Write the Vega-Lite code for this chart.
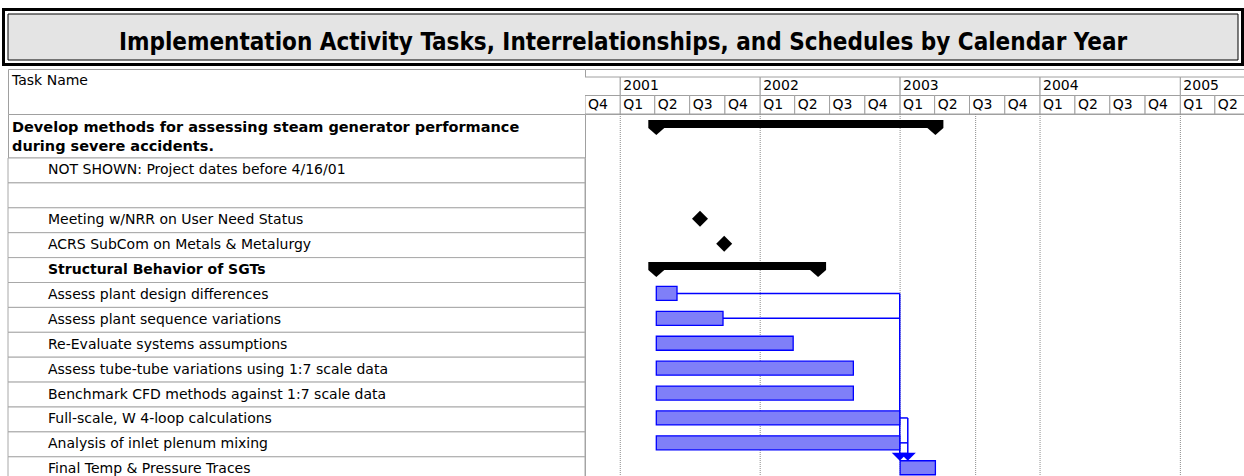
{
  "$schema": "https://vega.github.io/schema/vega-lite/v6.json",
  "background": "white",
  "padding": {"left": 2, "top": 8, "right": 0, "bottom": 0},
  "config": {"view": {"stroke": null}, "font": "DejaVu Sans", "text": {"font": "DejaVu Sans", "color": "black"}},
  "datasets": {
    "title": [{"text": "Implementation Activity Tasks, Interrelationships, and Schedules by Calendar Year"}],
    "header": [{"label": "Task Name", "level": 0}],
    "timescale": [
      {"tier": "year", "label": "", "start": "2000-01-01", "end": "2001-01-01"},
      {"tier": "year", "label": "2001", "start": "2001-01-01", "end": "2002-01-01"},
      {"tier": "year", "label": "2002", "start": "2002-01-01", "end": "2003-01-01"},
      {"tier": "year", "label": "2003", "start": "2003-01-01", "end": "2004-01-01"},
      {"tier": "year", "label": "2004", "start": "2004-01-01", "end": "2005-01-01"},
      {"tier": "year", "label": "2005", "start": "2005-01-01", "end": "2006-01-01"},
      {"tier": "quarter", "label": "Q4", "start": "2000-10-01", "end": "2001-01-01"},
      {"tier": "quarter", "label": "Q1", "start": "2001-01-01", "end": "2001-04-01"},
      {"tier": "quarter", "label": "Q2", "start": "2001-04-01", "end": "2001-07-01"},
      {"tier": "quarter", "label": "Q3", "start": "2001-07-01", "end": "2001-10-01"},
      {"tier": "quarter", "label": "Q4", "start": "2001-10-01", "end": "2002-01-01"},
      {"tier": "quarter", "label": "Q1", "start": "2002-01-01", "end": "2002-04-01"},
      {"tier": "quarter", "label": "Q2", "start": "2002-04-01", "end": "2002-07-01"},
      {"tier": "quarter", "label": "Q3", "start": "2002-07-01", "end": "2002-10-01"},
      {"tier": "quarter", "label": "Q4", "start": "2002-10-01", "end": "2003-01-01"},
      {"tier": "quarter", "label": "Q1", "start": "2003-01-01", "end": "2003-04-01"},
      {"tier": "quarter", "label": "Q2", "start": "2003-04-01", "end": "2003-07-01"},
      {"tier": "quarter", "label": "Q3", "start": "2003-07-01", "end": "2003-10-01"},
      {"tier": "quarter", "label": "Q4", "start": "2003-10-01", "end": "2004-01-01"},
      {"tier": "quarter", "label": "Q1", "start": "2004-01-01", "end": "2004-04-01"},
      {"tier": "quarter", "label": "Q2", "start": "2004-04-01", "end": "2004-07-01"},
      {"tier": "quarter", "label": "Q3", "start": "2004-07-01", "end": "2004-10-01"},
      {"tier": "quarter", "label": "Q4", "start": "2004-10-01", "end": "2005-01-01"},
      {"tier": "quarter", "label": "Q1", "start": "2005-01-01", "end": "2005-04-01"},
      {"tier": "quarter", "label": "Q2", "start": "2005-04-01", "end": "2005-07-01"}
    ],
    "summary": [
      {"line": "l1", "level": 0, "name": "Develop methods for assessing steam generator performance", "start": "2001-04-05", "end": "2003-04-03"},
      {"line": "l2", "level": 0, "name": "during severe accidents."}
    ],
    "tasks": [
      {"id": "r01", "name": "NOT SHOWN: Project dates before 4/16/01", "level": 1, "kind": "note"},
      {"id": "r02", "name": "", "level": 1, "kind": "blank"},
      {"id": "r03", "name": "Meeting w/NRR on User Need Status", "level": 1, "kind": "milestone", "start": "2001-07-28"},
      {"id": "r04", "name": "ACRS SubCom on Metals & Metalurgy", "level": 1, "kind": "milestone", "start": "2001-09-29"},
      {"id": "r05", "name": "Structural Behavior of SGTs", "level": 1, "kind": "summary", "start": "2001-04-05", "end": "2002-06-01"},
      {"id": "r06", "name": "Assess plant design differences", "level": 1, "kind": "task", "start": "2001-04-05", "end": "2001-05-29"},
      {"id": "r07", "name": "Assess plant sequence variations", "level": 1, "kind": "task", "start": "2001-04-05", "end": "2001-09-26"},
      {"id": "r08", "name": "Re-Evaluate systems assumptions", "level": 1, "kind": "task", "start": "2001-04-05", "end": "2002-03-28"},
      {"id": "r09", "name": "Assess tube-tube variations using 1:7 scale data", "level": 1, "kind": "task", "start": "2001-04-05", "end": "2002-09-01"},
      {"id": "r10", "name": "Benchmark CFD methods against 1:7 scale data", "level": 1, "kind": "task", "start": "2001-04-05", "end": "2002-09-01"},
      {"id": "r11", "name": "Full-scale, W 4-loop calculations", "level": 1, "kind": "task", "start": "2001-04-05", "end": "2002-12-31"},
      {"id": "r12", "name": "Analysis of inlet plenum mixing", "level": 1, "kind": "task", "start": "2001-04-05", "end": "2002-12-31"},
      {"id": "r13", "name": "Final Temp & Pressure Traces", "level": 1, "kind": "task", "start": "2003-01-01", "end": "2003-04-03"}
    ],
    "links": [
      {"id": "r06", "id2": "r06", "start": "2001-05-29", "end": "2002-12-31"},
      {"id": "r07", "id2": "r07", "start": "2001-09-26", "end": "2002-12-31"},
      {"id": "r06", "id2": "r13", "start": "2002-12-31", "end": "2002-12-31"},
      {"id": "r11", "id2": "r11", "start": "2002-12-31", "end": "2003-01-21"},
      {"id": "r12", "id2": "r12", "start": "2002-12-31", "end": "2003-01-21"},
      {"id": "r11", "id2": "r13", "start": "2003-01-21", "end": "2003-01-21"}
    ],
    "grid": [
      {"date": "2001-01-01"}, {"date": "2002-01-01"}, {"date": "2003-01-01"},
      {"date": "2003-07-17"}, {"date": "2004-01-01"}, {"date": "2005-01-01"}
    ]
  },
  "bounds": "flush",
  "spacing": 9,
  "vconcat": [
    {
      "width": 1230,
      "height": 46,
      "data": {"name": "title"},
      "layer": [
        {"mark": {"type": "rect", "fill": "transparent", "stroke": "black", "strokeWidth": 12}, "encoding": {}},
        {"mark": {"type": "rect", "fill": "transparent", "stroke": "white", "strokeWidth": 6}, "encoding": {}},
        {"mark": {"type": "rect", "fill": "#e4e4e4", "stroke": "black", "strokeWidth": 1}, "encoding": {}},
        {"mark": {"type": "text", "font": "DejaVu Sans Condensed, Liberation Sans, sans-serif", "fontWeight": "bold", "fontSize": 24, "dy": 6, "color": "black"}, "encoding": {"text": {"field": "text"}}}
      ]
    },
    {
      "columns": 2,
      "spacing": 0,
      "bounds": "flush",
      "align": "each",
      "concat": [
        {
          "width": 577,
          "height": 45,
          "view": {"stroke": "#a0a0a0", "fill": "white"},
          "data": {"name": "header"},
          "mark": {"type": "text", "align": "left", "dy": -11, "fontSize": 14},
          "encoding": {
            "x": {"field": "level", "type": "quantitative", "scale": {"domain": [0, 1], "range": [4, 40]}, "axis": null},
            "text": {"field": "label"}
          }
        },
        {
          "width": 659,
          "height": 45,
          "view": {"stroke": "#a0a0a0", "fill": "white"},
          "data": {"name": "timescale"},
          "encoding": {
            "x": {"field": "start", "type": "temporal", "scale": {"type": "utc", "domain": [{"year": 2000, "month": 10, "date": 1, "utc": true}, {"year": 2005, "month": 6, "date": 16, "utc": true}]}, "axis": null},
            "y": {"field": "tier", "type": "nominal", "scale": {"type": "band", "domain": ["year", "quarter"], "range": [8, 45], "paddingInner": 0, "paddingOuter": 0}, "axis": null}
          },
          "layer": [
            {"mark": {"type": "rect", "fill": "white", "stroke": "#a0a0a0", "strokeWidth": 1, "clip": true}, "encoding": {"x2": {"field": "end"}}},
            {"mark": {"type": "text", "align": "left", "dx": 3, "fontSize": 14, "clip": true}, "encoding": {"text": {"field": "label"}}}
          ]
        },
        {
          "width": 577,
          "height": 43.5,
          "view": {"stroke": "#a0a0a0", "fill": "white"},
          "data": {"name": "summary"},
          "mark": {"type": "text", "align": "left", "fontWeight": "bold", "fontSize": 14.5},
          "encoding": {
            "x": {"field": "level", "type": "quantitative", "scale": {"domain": [0, 1], "range": [4, 40]}, "axis": null},
            "y": {"field": "line", "type": "nominal", "scale": {"type": "band", "domain": ["l1", "l2"], "range": [4.5, 42.5], "paddingInner": 0, "paddingOuter": 0}, "axis": null},
            "text": {"field": "name"}
          }
        },
        {
          "width": 659,
          "height": 43.5,
          "layer": [
            {
              "data": {"name": "grid"},
              "mark": {"type": "rule", "stroke": "#8c8c8c", "strokeDash": [1, 1], "strokeWidth": 1},
              "encoding": {"x": {"field": "date", "type": "temporal", "scale": {"type": "utc", "domain": [{"year": 2000, "month": 10, "date": 1, "utc": true}, {"year": 2005, "month": 6, "date": 16, "utc": true}]}, "axis": null}}
            },
            {
              "data": {"name": "summary"},
              "transform": [{"filter": "isValid(datum.start)"}],
              "mark": {"type": "bar", "color": "black", "height": 8, "yOffset": -4},
              "encoding": {
                "x": {"field": "start", "type": "temporal", "axis": null},
                "x2": {"field": "end"},
                "y": {"field": "line", "type": "nominal", "scale": {"type": "band", "domain": ["l1", "l2"], "range": [4.5, 42.5], "paddingInner": 0, "paddingOuter": 0}, "axis": null}
              }
            },
            {
              "data": {"name": "summary"},
              "transform": [{"filter": "isValid(datum.start)"}],
              "mark": {"type": "point", "shape": "M-1,-0.5L1,-0.5L1,0.5L0,1.375L-1,0.5Z", "size": 256, "filled": true, "color": "black", "opacity": 1, "strokeWidth": 0, "yOffset": -4},
              "encoding": {
                "x": {"field": "start", "type": "temporal", "axis": null},
                "y": {"field": "line", "type": "nominal", "axis": null}
              }
            },
            {
              "data": {"name": "summary"},
              "transform": [{"filter": "isValid(datum.start)"}],
              "mark": {"type": "point", "shape": "M-1,-0.5L1,-0.5L1,0.5L0,1.375L-1,0.5Z", "size": 256, "filled": true, "color": "black", "opacity": 1, "strokeWidth": 0, "yOffset": -4},
              "encoding": {
                "x": {"field": "end", "type": "temporal", "axis": null},
                "y": {"field": "line", "type": "nominal", "axis": null}
              }
            }
          ]
        },
        {
          "width": 577,
          "height": 323.7,
          "view": {"stroke": "#a0a0a0", "fill": "white"},
          "data": {"name": "tasks"},
          "layer": [
            {
              "mark": {"type": "rect", "fill": "white", "stroke": "#a8a8a8", "strokeWidth": 1},
              "encoding": {"y": {"field": "id", "type": "nominal", "scale": {"type": "band", "domain": ["r01", "r02", "r03", "r04", "r05", "r06", "r07", "r08", "r09", "r10", "r11", "r12", "r13"], "paddingInner": 0, "paddingOuter": 0}, "axis": null}}
            },
            {
              "transform": [{"filter": "datum.kind !== 'summary'"}],
              "mark": {"type": "text", "align": "left", "fontSize": 14},
              "encoding": {
                "x": {"field": "level", "type": "quantitative", "scale": {"domain": [0, 1], "range": [4, 40]}, "axis": null},
                "y": {"field": "id", "type": "nominal", "axis": null},
                "text": {"field": "name"}
              }
            },
            {
              "transform": [{"filter": "datum.kind === 'summary'"}],
              "mark": {"type": "text", "align": "left", "fontSize": 14, "fontWeight": "bold"},
              "encoding": {
                "x": {"field": "level", "type": "quantitative", "axis": null},
                "y": {"field": "id", "type": "nominal", "axis": null},
                "text": {"field": "name"}
              }
            }
          ]
        },
        {
          "width": 659,
          "height": 323.7,
          "layer": [
            {
              "data": {"name": "grid"},
              "mark": {"type": "rule", "stroke": "#8c8c8c", "strokeDash": [1, 1], "strokeWidth": 1},
              "encoding": {"x": {"field": "date", "type": "temporal", "scale": {"type": "utc", "domain": [{"year": 2000, "month": 10, "date": 1, "utc": true}, {"year": 2005, "month": 6, "date": 16, "utc": true}]}, "axis": null}}
            },
            {
              "data": {"name": "links"},
              "transform": [{"filter": "datum.id === datum.id2"}],
              "mark": {"type": "rule", "color": "#0000ff", "strokeWidth": 1.5, "yOffset": -1.5, "y2Offset": -1.5},
              "encoding": {
                "x": {"field": "start", "type": "temporal", "axis": null},
                "x2": {"field": "end"},
                "y": {"field": "id", "type": "nominal", "scale": {"type": "band", "domain": ["r01", "r02", "r03", "r04", "r05", "r06", "r07", "r08", "r09", "r10", "r11", "r12", "r13"], "paddingInner": 0, "paddingOuter": 0}, "axis": null},
                "y2": {"field": "id2"}
              }
            },
            {
              "data": {"name": "links"},
              "transform": [{"filter": "datum.id !== datum.id2"}],
              "mark": {"type": "rule", "color": "#0000ff", "strokeWidth": 1.5, "yOffset": -1.5, "y2Offset": -12.5},
              "encoding": {
                "x": {"field": "start", "type": "temporal", "axis": null},
                "x2": {"field": "end"},
                "y": {"field": "id", "type": "nominal", "axis": null},
                "y2": {"field": "id2"}
              }
            },
            {
              "data": {"name": "tasks"},
              "transform": [{"filter": "datum.kind === 'task'"}],
              "mark": {"type": "bar", "height": 14, "fill": "#7f7ff8", "stroke": "#0000ff", "strokeWidth": 1.3, "yOffset": -1.5},
              "encoding": {
                "x": {"field": "start", "type": "temporal", "axis": null},
                "x2": {"field": "end"},
                "y": {"field": "id", "type": "nominal", "axis": null}
              }
            },
            {
              "data": {"name": "tasks"},
              "transform": [{"filter": "datum.kind === 'summary'"}],
              "mark": {"type": "bar", "height": 8, "color": "black", "yOffset": -4},
              "encoding": {
                "x": {"field": "start", "type": "temporal", "axis": null},
                "x2": {"field": "end"},
                "y": {"field": "id", "type": "nominal", "axis": null}
              }
            },
            {
              "data": {"name": "tasks"},
              "transform": [{"filter": "datum.kind === 'summary'"}],
              "mark": {"type": "point", "shape": "M-1,-0.5L1,-0.5L1,0.5L0,1.375L-1,0.5Z", "size": 256, "filled": true, "color": "black", "opacity": 1, "strokeWidth": 0, "yOffset": -4},
              "encoding": {
                "x": {"field": "start", "type": "temporal", "axis": null},
                "y": {"field": "id", "type": "nominal", "axis": null}
              }
            },
            {
              "data": {"name": "tasks"},
              "transform": [{"filter": "datum.kind === 'summary'"}],
              "mark": {"type": "point", "shape": "M-1,-0.5L1,-0.5L1,0.5L0,1.375L-1,0.5Z", "size": 256, "filled": true, "color": "black", "opacity": 1, "strokeWidth": 0, "yOffset": -4},
              "encoding": {
                "x": {"field": "end", "type": "temporal", "axis": null},
                "y": {"field": "id", "type": "nominal", "axis": null}
              }
            },
            {
              "data": {"name": "tasks"},
              "transform": [{"filter": "datum.kind === 'milestone'"}],
              "mark": {"type": "point", "shape": "diamond", "size": 256, "filled": true, "color": "black", "opacity": 1, "strokeWidth": 0, "yOffset": -1.5},
              "encoding": {
                "x": {"field": "start", "type": "temporal", "axis": null},
                "y": {"field": "id", "type": "nominal", "axis": null}
              }
            },
            {
              "data": {"name": "links"},
              "transform": [{"filter": "datum.id !== datum.id2"}],
              "mark": {"type": "point", "shape": "M-1,-0.5L1,-0.5L0,0.5Z", "size": 256, "filled": true, "color": "#0000ff", "opacity": 1, "strokeWidth": 0, "yOffset": -12.5},
              "encoding": {
                "x": {"field": "start", "type": "temporal", "axis": null},
                "y": {"field": "id2", "type": "nominal", "axis": null}
              }
            }
          ]
        }
      ]
    }
  ]
}
